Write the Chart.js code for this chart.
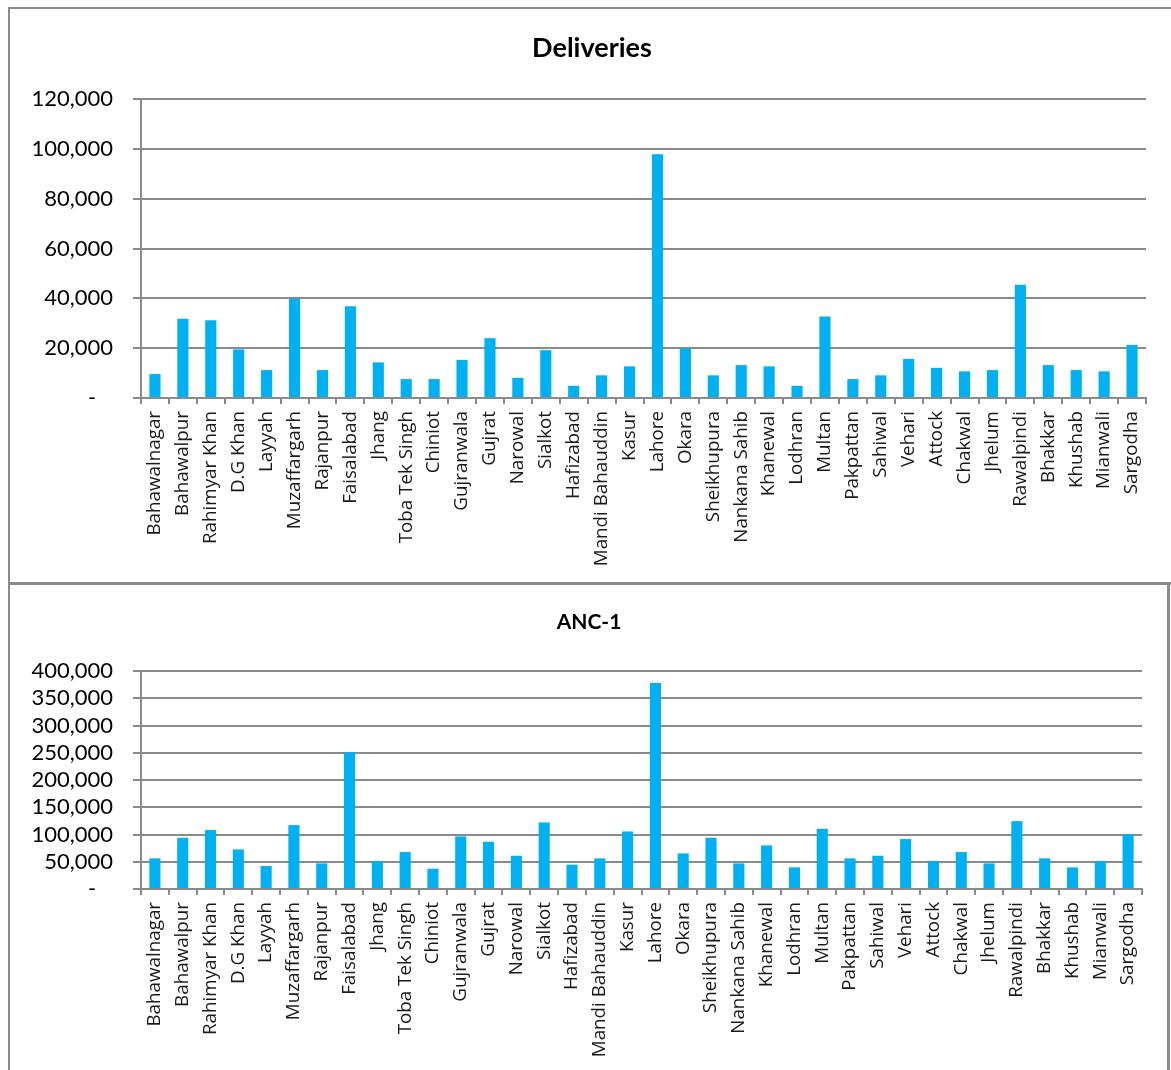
<!DOCTYPE html>
<html><head><meta charset="utf-8">
<script src="https://cdn.jsdelivr.net/npm/chart.js@4/dist/chart.umd.min.js"></script>
<style>
html,body{margin:0;padding:0;background:#fff;width:1171px;height:1070px;overflow:hidden;position:relative}
.line{position:absolute;background:#8a8a8a}
.box{position:absolute}
</style></head><body>
<div class="box" style="left:0;top:0;width:1171px;height:583px"><canvas id="c1"></canvas></div>
<div class="box" style="left:0;top:583px;width:1171px;height:487px"><canvas id="c2"></canvas></div>
<div class="line" style="left:8px;top:7px;width:1163px;height:2px"></div>
<div class="line" style="left:8px;top:7px;width:2px;height:1063px"></div>
<div class="line" style="left:8px;top:582px;width:1163px;height:3px"></div>
<div class="line" style="left:1167px;top:582px;width:3px;height:488px"></div>
<script>
const districts = ["Bahawalnagar","Bahawalpur","Rahimyar Khan","D.G Khan","Layyah","Muzaffargarh","Rajanpur","Faisalabad","Jhang","Toba Tek Singh","Chiniot","Gujranwala","Gujrat","Narowal","Sialkot","Hafizabad","Mandi Bahauddin","Kasur","Lahore","Okara","Sheikhupura","Nankana Sahib","Khanewal","Lodhran","Multan","Pakpattan","Sahiwal","Vehari","Attock","Chakwal","Jhelum","Rawalpindi","Bhakkar","Khushab","Mianwali","Sargodha"];
const deliveries = [9600,31800,31200,19500,11200,39800,11200,36800,14300,7600,7600,15300,24000,8100,19200,4900,9100,12700,97800,19900,9100,13200,12700,4900,32700,7600,9100,15700,12100,10700,11200,45500,13200,11200,10700,21300];
const anc1 = [56200,94000,108100,72600,42100,117200,47000,250900,51300,67800,37200,96500,86700,61000,122100,44600,56200,105600,377900,65300,94000,47000,80000,39700,110500,56200,61000,91600,51300,67800,47000,124500,56200,39700,51300,100700];
const deliveriesTicks = [0,20000,40000,60000,80000,100000,120000];
const anc1Ticks = [0,50000,100000,150000,200000,250000,300000,350000,400000];
const deliveriesTitle = "Deliveries";
const anc1Title = "ANC-1";

function fmt(v){ return v === 0 ? '-   ' : Number(v).toLocaleString('en-US'); }

// shifts the title box horizontally so its centre sits at a chosen x
const titleShift = {
  id:'titleShift',
  afterLayout(chart, args, opts){
    const t = chart.titleBlock;
    if(!t || opts.x == null) return;
    const dx = opts.x - (t.left + t.right)/2;
    t.left += dx; t.right += dx;
  }
};

function build(id, title, values, tickVals, g){
  const yMax = tickVals[tickVals.length-1];
  const yStep = tickVals[1]-tickVals[0];
  new Chart(document.getElementById(id), {
    type:'bar',
    data:{labels:districts, datasets:[{data:values, backgroundColor:'#00B0F0', borderWidth:0, barPercentage:0.8, categoryPercentage:0.5}]},
    plugins:[titleShift],
    options:{
      responsive:true, maintainAspectRatio:false, animation:false,
      layout:{padding:{left:g.padL, right:g.padR, top:g.padT, bottom:0}},
      plugins:{
        legend:{display:false}, tooltip:{enabled:false},
        titleShift:{x:g.titleX},
        title:{display:true, text:title, color:'#000', font:{family:'Lato', size:g.titleSize, weight:'bold', lineHeight:1.2}, padding:{top:g.tP1, bottom:g.tP2}}
      },
      scales:{
        x:{
          grid:{display:true, drawOnChartArea:false, drawTicks:true, tickLength:6, color:'#8a8a8a', lineWidth:2, offset:true},
          border:{display:true, color:'#8a8a8a', width:2},
          ticks:{autoSkip:false, maxRotation:90, minRotation:90, padding:7, color:'#1a1a1a', font:{family:'Open Sans', size:18.8}},
          afterFit(s){ s.height = g.xH; }
        },
        y:{
          min:0, max:yMax,
          grid:{color:'#8a8a8a', lineWidth:2, tickLength:8},
          border:{display:true, color:'#8a8a8a', width:2},
          ticks:{stepSize:yStep, autoSkip:false, padding:20, color:'#000', font:{family:'Lato', size:22, lineHeight:1.0}, callback:fmt},
          afterFit(s){ s.width = g.yW; }
        }
      }
    }
  });
}

build('c1', deliveriesTitle, deliveries, deliveriesTicks, {padL:14, padR:25, padT:16, tP1:16, tP2:34.6, titleSize:27, titleX:592, xH:185, yW:127});
build('c2', anc1Title, anc1, anc1Ticks, {padL:14, padR:29, padT:13, tP1:13.4, tP2:36.4, titleSize:21, titleX:589, xH:181, yW:127});
</script>
</body></html>
